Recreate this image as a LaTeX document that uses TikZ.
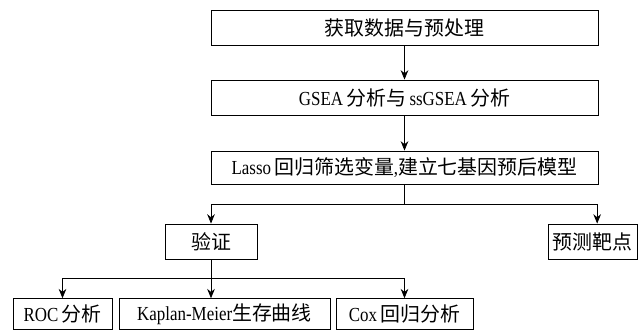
\documentclass[tikz,border=0pt]{standalone}
\usepackage{fontspec}
\setmainfont{Liberation Serif}[FakeStretch=0.85]
\newfontfamily\cjk{Noto Sans CJK SC}
\newcommand{\zh}[1]{{\cjk #1}}
\usepackage{tikz}
\usetikzlibrary{arrows.meta,calc,positioning}

\begin{document}
\begin{tikzpicture}[
    box/.style={draw, line width=0.7pt, inner sep=0pt, minimum height=1.05cm,
                font=\fontsize{17}{20}\selectfont},
    arr/.style={line width=0.7pt, -{Stealth[length=8pt,width=6.5pt]}}]
    \useasboundingbox (0,0) rectangle (19.32,9.9);
    \node[box, minimum width=11.61cm] (prep) at (12.135,9.075) {\zh{获取数据与预处理}};
    \node[box, minimum width=11.61cm] (gsea) at (12.135,6.975) {GSEA\,\zh{分析与}\,ssGSEA\,\zh{分析}};
    \node[box, minimum width=11.61cm, minimum height=0.99cm] (lasso) at (12.135,4.875) {Lasso\,\zh{回归筛选变量},\zh{建立七基因预后模型}};
    \node[box, minimum width=2.76cm] (valid) at (6.33,2.655) {\zh{验证}};
    \node[box, minimum width=2.67cm] (pred) at (17.775,2.655) {\zh{预测靶点}};
    \node[box, minimum width=2.97cm, minimum height=0.92cm] (roc) at (1.875,0.48) {ROC\,\zh{分析}};
    \node[box, minimum width=6.33cm, minimum height=0.92cm] (km) at (6.735,0.48) {Kaplan-Meier\zh{生存曲线}};
    \node[box, minimum width=4.11cm, minimum height=0.92cm] (cox) at (12.135,0.48) {Cox\,\zh{回归分析}};
    \coordinate (split1) at (lasso.south |- 0,3.78);
    \coordinate (split2) at (valid.south |- 0,1.56);
    \draw[arr] (prep) -- (gsea);
    \draw[arr] (gsea) -- (lasso);
    \draw[line width=0.7pt] (lasso) -- (split1);
    \draw[arr] (split1) -| (valid.north);
    \draw[arr] (split1) -| ([xshift=0.14cm]pred.north);
    \draw[line width=0.7pt] (valid) -- (split2);
    \draw[arr] (split2) -| (roc.north);
    \draw[arr] (split2) -- (split2 |- km.north);
    \draw[arr] (split2) -| (cox.north);
\end{tikzpicture}
\end{document}
